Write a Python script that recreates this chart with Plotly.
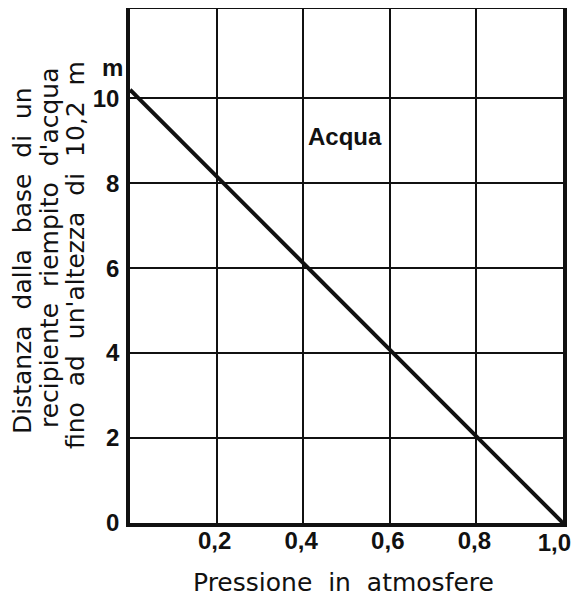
import plotly.graph_objects as go

# Data
pressure_atm = [0.0, 1.0]
height_m = [10.2, 0.0]
x_tick_vals = [0.2, 0.4, 0.6, 0.8, 1.0]
x_tick_text = ["0,2", "0,4", "0,6", "0,8", "1,0"]
y_tick_vals = [0, 2, 4, 6, 8, 10]
y_tick_text = ["0", "2", "4", "6", "8", "10"]
series_label = "Acqua"
x_title = "Pressione in atmosfere"
y_title_lines = ["Distanza dalla base di un",
                 "recipiente riempito d'acqua",
                 "fino ad un'altezza di 10,2 m"]

# page body has an 8px margin; target plot box in screen pixels
OFF = 8
PL, PR, PT, PB = 130, 563, 9, 523
W, H = 581 - OFF, 602 - OFF
ML, MT = PL - OFF, PT - OFF
MR, MB = W - (PR - OFF), H - (PB - OFF)
PW = PR - PL
PH = PB - PT

def px_x(sx):
    return (sx - PL) / PW

def px_y(sy):
    return (PB - sy) / PH

def wide(s):
    return s.replace(" ", "\u00a0 ")

fig = go.Figure()
fig.add_trace(go.Scatter(x=pressure_atm, y=height_m, mode="lines",
                         line=dict(color="#111111", width=4),
                         showlegend=False, hoverinfo="skip"))
# helper (invisible) trace so the overlay axis carrying the last label is drawn
fig.add_trace(go.Scatter(x=pressure_atm[-1:], y=height_m[-1:], xaxis="x2",
                         mode="markers", marker=dict(opacity=0),
                         showlegend=False, hoverinfo="skip"))

tick_font = dict(family="Liberation Sans, Arial, sans-serif", size=24,
                 color="#111111", weight="bold")
title_font = dict(family="DejaVu Sans, sans-serif", size=25, color="#111111")

fig.update_layout(
    width=W, height=H,
    margin=dict(l=ML, r=MR, t=MT, b=MB, autoexpand=False),
    paper_bgcolor="white", plot_bgcolor="white",
    xaxis=dict(range=[0, 1.0], tickvals=x_tick_vals[:-1],
               ticktext=x_tick_text[:-1],
               showgrid=True, gridcolor="#111111", gridwidth=1.6,
               zeroline=False, showline=True, linecolor="#111111",
               linewidth=3.5, mirror=True, ticks="", tickfont=tick_font,
               ticklabelstandoff=-7, ticklabelshift=-2,
               ticklabeloverflow="allow",
               automargin=False, fixedrange=True),
    xaxis2=dict(range=[0, 1.0], overlaying="x", side="bottom",
                tickvals=x_tick_vals[-1:], ticktext=x_tick_text[-1:],
                ticklabelposition="outside left", ticklabelshift=8,
                showgrid=False, zeroline=False, showline=False, ticks="",
                tickfont=tick_font, ticklabelstandoff=3,
                ticklabeloverflow="allow", automargin=False,
                fixedrange=True),
    yaxis=dict(range=[0, 12.1], tickvals=y_tick_vals, ticktext=y_tick_text,
               showgrid=True, gridcolor="#111111", gridwidth=1.6,
               zeroline=False, showline=True, linecolor="#111111",
               linewidth=3.5, mirror=True, ticks="", tickfont=tick_font,
               ticklabelstandoff=2, ticklabeloverflow="allow",
               automargin=False, fixedrange=True),
)

# Series label
fig.add_annotation(x=0.497, y=9.1, xref="x", yref="y", text=series_label,
                   showarrow=False, font=tick_font)

# Unit label
fig.add_annotation(x=px_x(112), y=px_y(67), xref="paper", yref="paper",
                   text="m", showarrow=False, font=tick_font,
                   xanchor="center", yanchor="middle")

# X axis title
fig.add_annotation(x=px_x(343), y=px_y(582), xref="paper", yref="paper",
                   text=wide(x_title), showarrow=False, font=title_font,
                   xanchor="center", yanchor="middle")

# Y axis title (three rotated lines)
centers_x = [22, 49, 76]
centers_y = [261, 248, 255]
for line, cx, cy in zip(y_title_lines, centers_x, centers_y):
    fig.add_annotation(x=px_x(cx), y=px_y(cy), xref="paper", yref="paper",
                       text=wide(line), textangle=-90, showarrow=False,
                       font=title_font, xanchor="center", yanchor="middle")

fig.write_html("out.html")
